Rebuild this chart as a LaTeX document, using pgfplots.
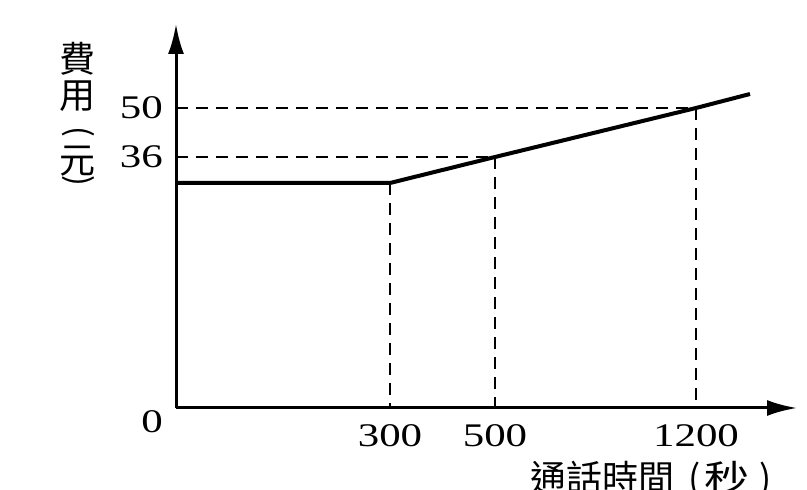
\documentclass[border=0pt]{standalone}
\usepackage{fontspec}
\setmainfont{Liberation Serif}[FakeStretch=1.3]
\newfontfamily\cjk{Noto Sans CJK TC}
\usepackage{graphicx}
\usepackage{pgfplots}
\pgfplotsset{compat=1.18}
\usetikzlibrary{arrows.meta}
\begin{document}
\begin{tikzpicture}[x=1pt,y=1pt]
\useasboundingbox (0,0) rectangle (807,490);
\begin{axis}[
  at={(176pt,82pt)}, anchor=south west, scale only axis,
  x=1pt, y=1pt,
  xmin=0, xmax=621, ymin=0, ymax=384,
  enlargelimits=false, clip=false,
  axis lines=left,
  axis line style={line width=3pt, -{Latex[length=30pt,width=16pt]}},
  xtick={214,319,520}, xticklabels={300,500,1200},
  ytick={251,300}, yticklabels={36,50},
  major tick length=0pt,
  tick label style={font=\fontsize{33}{36}\selectfont, inner sep=0pt},
  xticklabel style={anchor=center, yshift=-28pt},
  yticklabel style={anchor=east, xshift=-13pt},
  /pgf/number format/assume math mode=true,
]
\addplot[black, line width=2.2pt, dash pattern=on 12pt off 8pt] coordinates {(0,300)(520,300)};
\addplot[black, line width=2.2pt, dash pattern=on 12pt off 8pt] coordinates {(0,251)(319,251)};
\addplot[black, line width=2.6pt, dash pattern=on 12pt off 8pt] coordinates {(214,225)(214,0)};
\addplot[black, line width=2.2pt, dash pattern=on 12pt off 8pt] coordinates {(319,251)(319,0)};
\addplot[black, line width=2.6pt, dash pattern=on 12pt off 8pt] coordinates {(520,300)(520,0)};
\addplot[black, line width=4pt, line join=round] coordinates {(0,225)(214,225)(319,251)(520,300)(574,314)};
\node[inner sep=0pt] at (axis cs:-24,-14) {\fontsize{33}{36}\selectfont 0};
\node[inner sep=0pt] at (axis cs:-98,349) {\cjk\fontsize{36}{40}\selectfont 費};
\node[inner sep=0pt] at (axis cs:-98,312) {\cjk\fontsize{36}{40}\selectfont 用};
\node[inner sep=0pt] at (axis cs:-98,276) {\rotatebox{-90}{\cjk\fontsize{32}{34}\selectfont (}};
\node[inner sep=0pt] at (axis cs:-98,247) {\cjk\fontsize{36}{40}\selectfont 元};
\node[inner sep=0pt] at (axis cs:-98,227) {\rotatebox{-90}{\cjk\fontsize{32}{34}\selectfont )}};
\node[anchor=base west, inner sep=0pt] at (axis cs:354,-84) {\cjk\fontsize{36}{40}\selectfont 通話時間\hspace{14pt}(\hspace{4pt}\scalebox{1.25}[1]{秒}\hspace{10pt})};
\end{axis}
\end{tikzpicture}
\end{document}
